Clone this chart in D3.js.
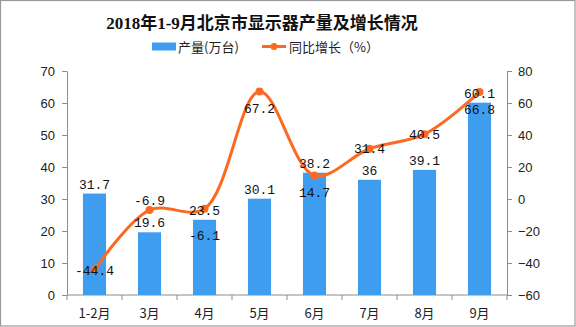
<!DOCTYPE html>
<html>
<head>
<meta charset="utf-8">
<script src="https://cdn.jsdelivr.net/npm/d3@7"></script>
<style>
  body { margin: 0; background: #fff; }
  #chart svg { display: block; }
</style>
</head>
<body>
<div id="chart"></div>
<script>
// data
var months = ["1-2月", "3月", "4月", "5月", "6月", "7月", "8月", "9月"];
var output = [31.7, 19.6, 23.5, 30.1, 38.2, 36, 39.1, 60.1];       // 产量(万台)
var growth = [-44.4, -6.9, -6.1, 67.2, 14.7, 31.4, 40.5, 66.8];     // 同比增长(%)
var leftTicks = [0, 10, 20, 30, 40, 50, 60, 70];
var rightTicks = [-60, -40, -20, 0, 20, 40, 60, 80];

var title = "2018年1-9月北京市显示器产量及增长情况";
var barName = "产量(万台)";
var lineName = "同比增长（%）";

function drawChart() {
    var w = 576, h = 327;
    var margin = { top: 71, right: 69, bottom: 32, left: 67 };
    var width = w - margin.left - margin.right;
    var height = h - margin.top - margin.bottom;
    var barColor = "#3f9df0", lineColor = "#fc6a21";
    var axisColor = "#8c8c8c";

    var root = d3.select("#chart").append("svg")
        .attr("width", w)
        .attr("height", h);

    // outer frame
    root.append("rect")
        .attr("x", 0.5).attr("y", 0.5)
        .attr("width", w - 1.5).attr("height", h - 1.5)
        .attr("fill", "#fff")
        .attr("stroke", "#999")
        .attr("stroke-width", 1.2);

    // title
    root.append("text")
        .attr("x", 262)
        .attr("y", 29)
        .attr("text-anchor", "middle")
        .style("font-family", "'Liberation Serif', 'Noto Sans CJK SC', serif")
        .style("font-weight", "bold")
        .style("font-size", "17px")
        .style("fill", "#111")
        .text(title);

    // legend
    var legend = root.append("g").attr("transform", "translate(152,46.5)");
    legend.append("rect")
        .attr("x", 0).attr("y", -4)
        .attr("width", 24).attr("height", 8)
        .attr("fill", barColor);
    legend.append("text")
        .attr("x", 26).attr("y", 5)
        .style("font-family", "'Noto Sans CJK SC', sans-serif")
        .style("font-size", "13px")
        .style("fill", "#222")
        .text(barName);
    legend.append("line")
        .attr("x1", 110).attr("x2", 134)
        .attr("stroke", lineColor).attr("stroke-width", 3);
    legend.append("circle")
        .attr("cx", 122).attr("r", 3.5)
        .attr("fill", lineColor);
    legend.append("text")
        .attr("x", 137).attr("y", 5)
        .style("font-family", "'Noto Sans CJK SC', sans-serif")
        .style("font-size", "13px")
        .style("fill", "#222")
        .text(lineName);

    var svg = root.append("g")
        .attr("transform", `translate(${margin.left},${margin.top})`);

    // --- Scales ---
    var xScale = d3.scaleBand()
        .domain(months)
        .range([0, width]);

    var yLeft = d3.scaleLinear()
        .domain([0, 70])
        .range([height, 0]);

    var yRight = d3.scaleLinear()
        .domain([-60, 80])
        .range([height, 0]);

    // --- Axes ---
    var leftAxis = svg.append("g")
        .call(d3.axisLeft(yLeft).tickValues(leftTicks).tickSize(5).tickSizeOuter(0).tickPadding(7));

    var rightAxis = svg.append("g")
        .attr("transform", `translate(${width},0)`)
        .call(d3.axisRight(yRight).tickValues(rightTicks).tickSize(5).tickSizeOuter(0).tickPadding(6));

    [leftAxis, rightAxis].forEach(function (ax) {
        ax.selectAll("path, line").attr("stroke", axisColor);
        ax.selectAll("text")
            .style("font-family", "'Liberation Sans', Arial, sans-serif")
            .style("font-size", "13px")
            .style("fill", "#222");
    });

    // x axis: line, boundary ticks, month labels
    var xAxis = svg.append("g").attr("transform", `translate(0,${height})`);
    xAxis.append("line")
        .attr("x1", 0).attr("x2", width)
        .attr("stroke", axisColor);
    var bounds = months.map(m => xScale(m)).concat([width]);
    xAxis.selectAll(".xtick")
        .data(bounds)
        .enter().append("line")
        .attr("class", "xtick")
        .attr("x1", d => d).attr("x2", d => d)
        .attr("y1", 0).attr("y2", 5)
        .attr("stroke", axisColor);
    xAxis.selectAll(".xlabel")
        .data(months)
        .enter().append("text")
        .attr("class", "xlabel")
        .attr("x", d => xScale(d) + xScale.bandwidth() / 2)
        .attr("y", 23)
        .attr("text-anchor", "middle")
        .style("font-family", "'Noto Sans CJK SC', sans-serif")
        .style("font-size", "13px")
        .style("fill", "#222")
        .text(d => d);

    // --- Bars ---
    var barW = xScale.bandwidth() * 0.42;
    svg.append("g")
        .selectAll("rect")
        .data(output)
        .enter().append("rect")
        .attr("x", (d, i) => xScale(months[i]) + (xScale.bandwidth() - barW) / 2)
        .attr("y", d => yLeft(d))
        .attr("width", barW)
        .attr("height", d => height - yLeft(d))
        .attr("fill", barColor);

    // --- Line ---
    var cx = i => xScale(months[i]) + xScale.bandwidth() / 2;
    var line = d3.line()
        .x((d, i) => cx(i))
        .y(d => yRight(d))
        .curve(d3.curveCatmullRom.alpha(0.5));

    svg.append("path")
        .datum(growth)
        .attr("d", line)
        .attr("fill", "none")
        .attr("stroke", lineColor)
        .attr("stroke-width", 3);

    svg.append("g")
        .selectAll("circle")
        .data(growth)
        .enter().append("circle")
        .attr("cx", (d, i) => cx(i))
        .attr("cy", d => yRight(d))
        .attr("r", 4)
        .attr("fill", lineColor);

    // --- Data labels ---
    var labelFont = "'Liberation Mono', 'DejaVu Sans Mono', monospace";
    svg.append("g")
        .selectAll("text")
        .data(output)
        .enter().append("text")
        .attr("x", (d, i) => cx(i))
        .attr("y", d => yLeft(d) - 9.5)
        .attr("dy", "0.35em")
        .attr("text-anchor", "middle")
        .style("font-family", labelFont)
        .style("font-size", "13px")
        .style("fill", "#111")
        .text(d => d);

    // where each growth label sits relative to its point
    var growthPlace = ["center", "above", "below2", "below", "below", "center", "center", "below"];
    var placeDy = { center: 0, above: -10, below: 17, below2: 27 };
    svg.append("g")
        .selectAll("text")
        .data(growth)
        .enter().append("text")
        .attr("x", (d, i) => cx(i))
        .attr("y", (d, i) => yRight(d) + placeDy[growthPlace[i]])
        .attr("dy", "0.35em")
        .attr("text-anchor", "middle")
        .style("font-family", labelFont)
        .style("font-size", "13px")
        .style("fill", "#111")
        .text(d => d);
}

drawChart();
</script>
</body>
</html>
